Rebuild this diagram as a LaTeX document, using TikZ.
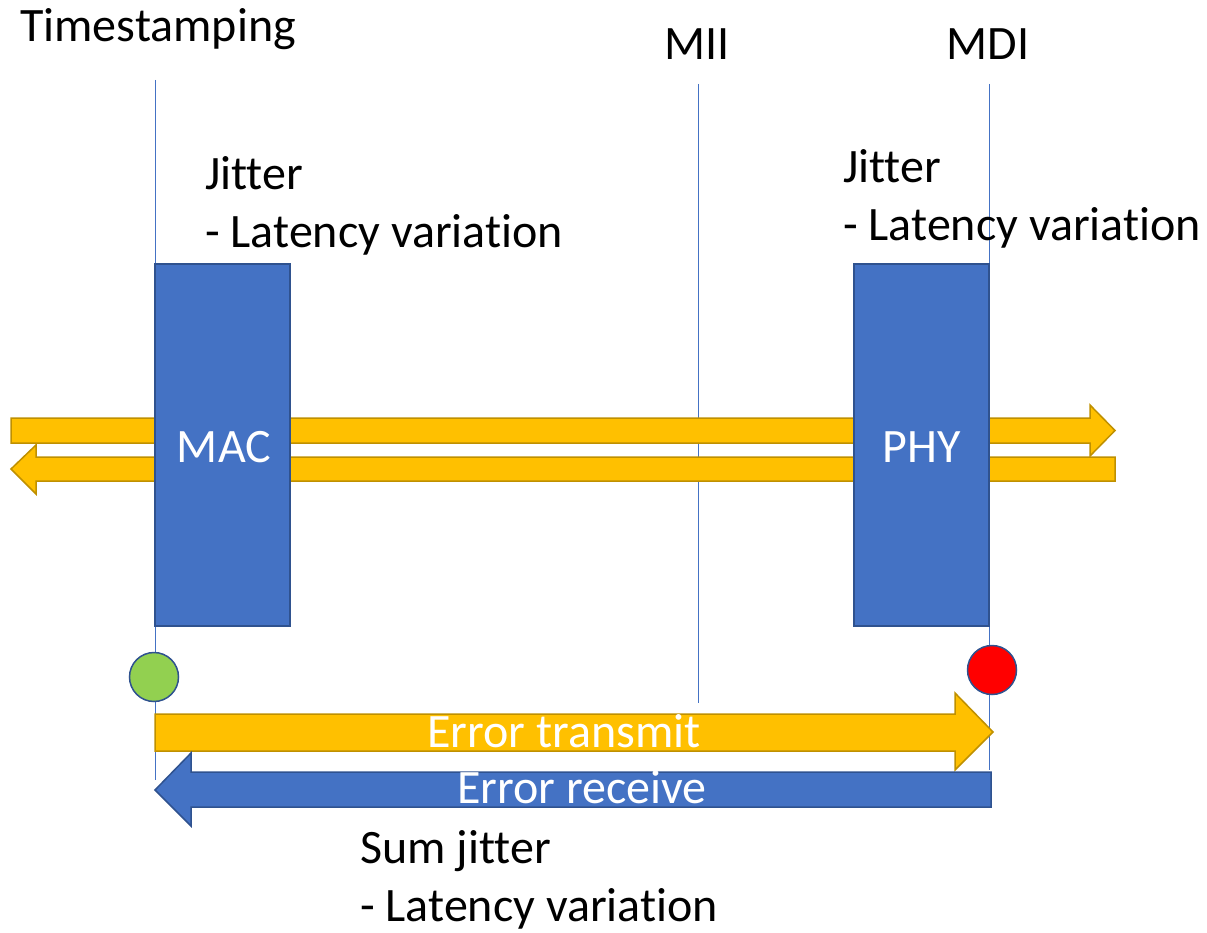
\documentclass[tikz,border=0pt]{standalone}
\usepackage{fontspec}
\setmainfont{Carlito}[Ligatures=CommonOff]
\definecolor{blk}{HTML}{4472C4}
\definecolor{blkedge}{HTML}{2F528F}
\definecolor{gold}{HTML}{FFC000}
\definecolor{goldedge}{HTML}{BF9000}
\definecolor{okgreen}{HTML}{92D050}
\begin{document}
\begin{tikzpicture}[x=1pt,y=-1pt,
  lbl/.style={font=\fontsize{48}{58}\selectfont, inner sep=0pt, anchor=base west, align=left},
  wlbl/.style={font=\fontsize{48}{58}\selectfont, text=white, inner sep=0pt, anchor=base},
  layer/.style={draw=blk, line width=1pt},
  block/.style={draw=blkedge, fill=blk, line width=1.2pt, minimum width=135pt, minimum height=362pt, inner sep=0pt},
  goldarrow/.style={draw=goldedge, fill=gold, line width=1.5pt, line join=miter},
  bluearrow/.style={draw=blkedge, fill=blk, line width=1.5pt, line join=miter},
  dot/.style={circle, draw=blkedge, line width=1.5pt, minimum size=49pt, inner sep=0pt}]
\useasboundingbox (0,0) rectangle (1207,933);

% reference planes
\coordinate (ts top) at (155,80);  \coordinate (ts bot) at (155,780);
\coordinate (mii top) at (698,84); \coordinate (mii bot) at (698,703);
\coordinate (mdi top) at (989,84); \coordinate (mdi bot) at (989,770);
\draw[layer] (ts top) -- (ts bot);
\draw[layer] (mii top) -- (mii bot);
\draw[layer] (mdi top) -- (mdi bot);

% data path arrows behind the blocks
\draw[goldarrow] (11,418) -- (1090,418) -- (1090,405) -- (1115,430.5) -- (1090,456) -- (1090,443) -- (11,443) -- cycle;
\draw[goldarrow] (1115,457) -- (36,457) -- (36,445) -- (11,469) -- (36,494) -- (36,481) -- (1115,481) -- cycle;

% MAC and PHY blocks
\node[block] (mac) at (222.5,445) {};
\node[block] (phy) at (921.5,445) {};
\node[wlbl] (maclbl) at (224,462) {MAC};
\node[wlbl] (phylbl) at (922,462) {PHY};

% timestamp points
\node[dot, fill=okgreen] (tsdot) at (154,677) {};
\node[dot, fill=red] (mdidot) at (992,670) {};

% error path arrows
\draw[goldarrow] (155,714) -- (955,714) -- (955,693) -- (993,732) -- (955,770) -- (955,751) -- (155,751) -- cycle;
\draw[bluearrow] (991,772) -- (191,772) -- (191,753) -- (155,790) -- (191,826) -- (191,807) -- (991,807) -- cycle;
\node[wlbl] (etx) at (564,747) {Error transmit};
\node[wlbl] (erx) at (582,803) {Error receive};

% labels
\node[lbl] (tslbl) at (20,42) {Timestamping};
\node[lbl, anchor=base] (miilbl) at (697,60) {MII};
\node[lbl, anchor=base] (mdilbl) at (988,60) {MDI};
\node[lbl] (jit1) at (205,248) {Jitter\\- Latency variation};
\node[lbl] (jit2) at (843,241) {Jitter\\- Latency variation};
\node[lbl] (sum) at (360,921) {Sum jitter\\- Latency variation};
\end{tikzpicture}
\end{document}
